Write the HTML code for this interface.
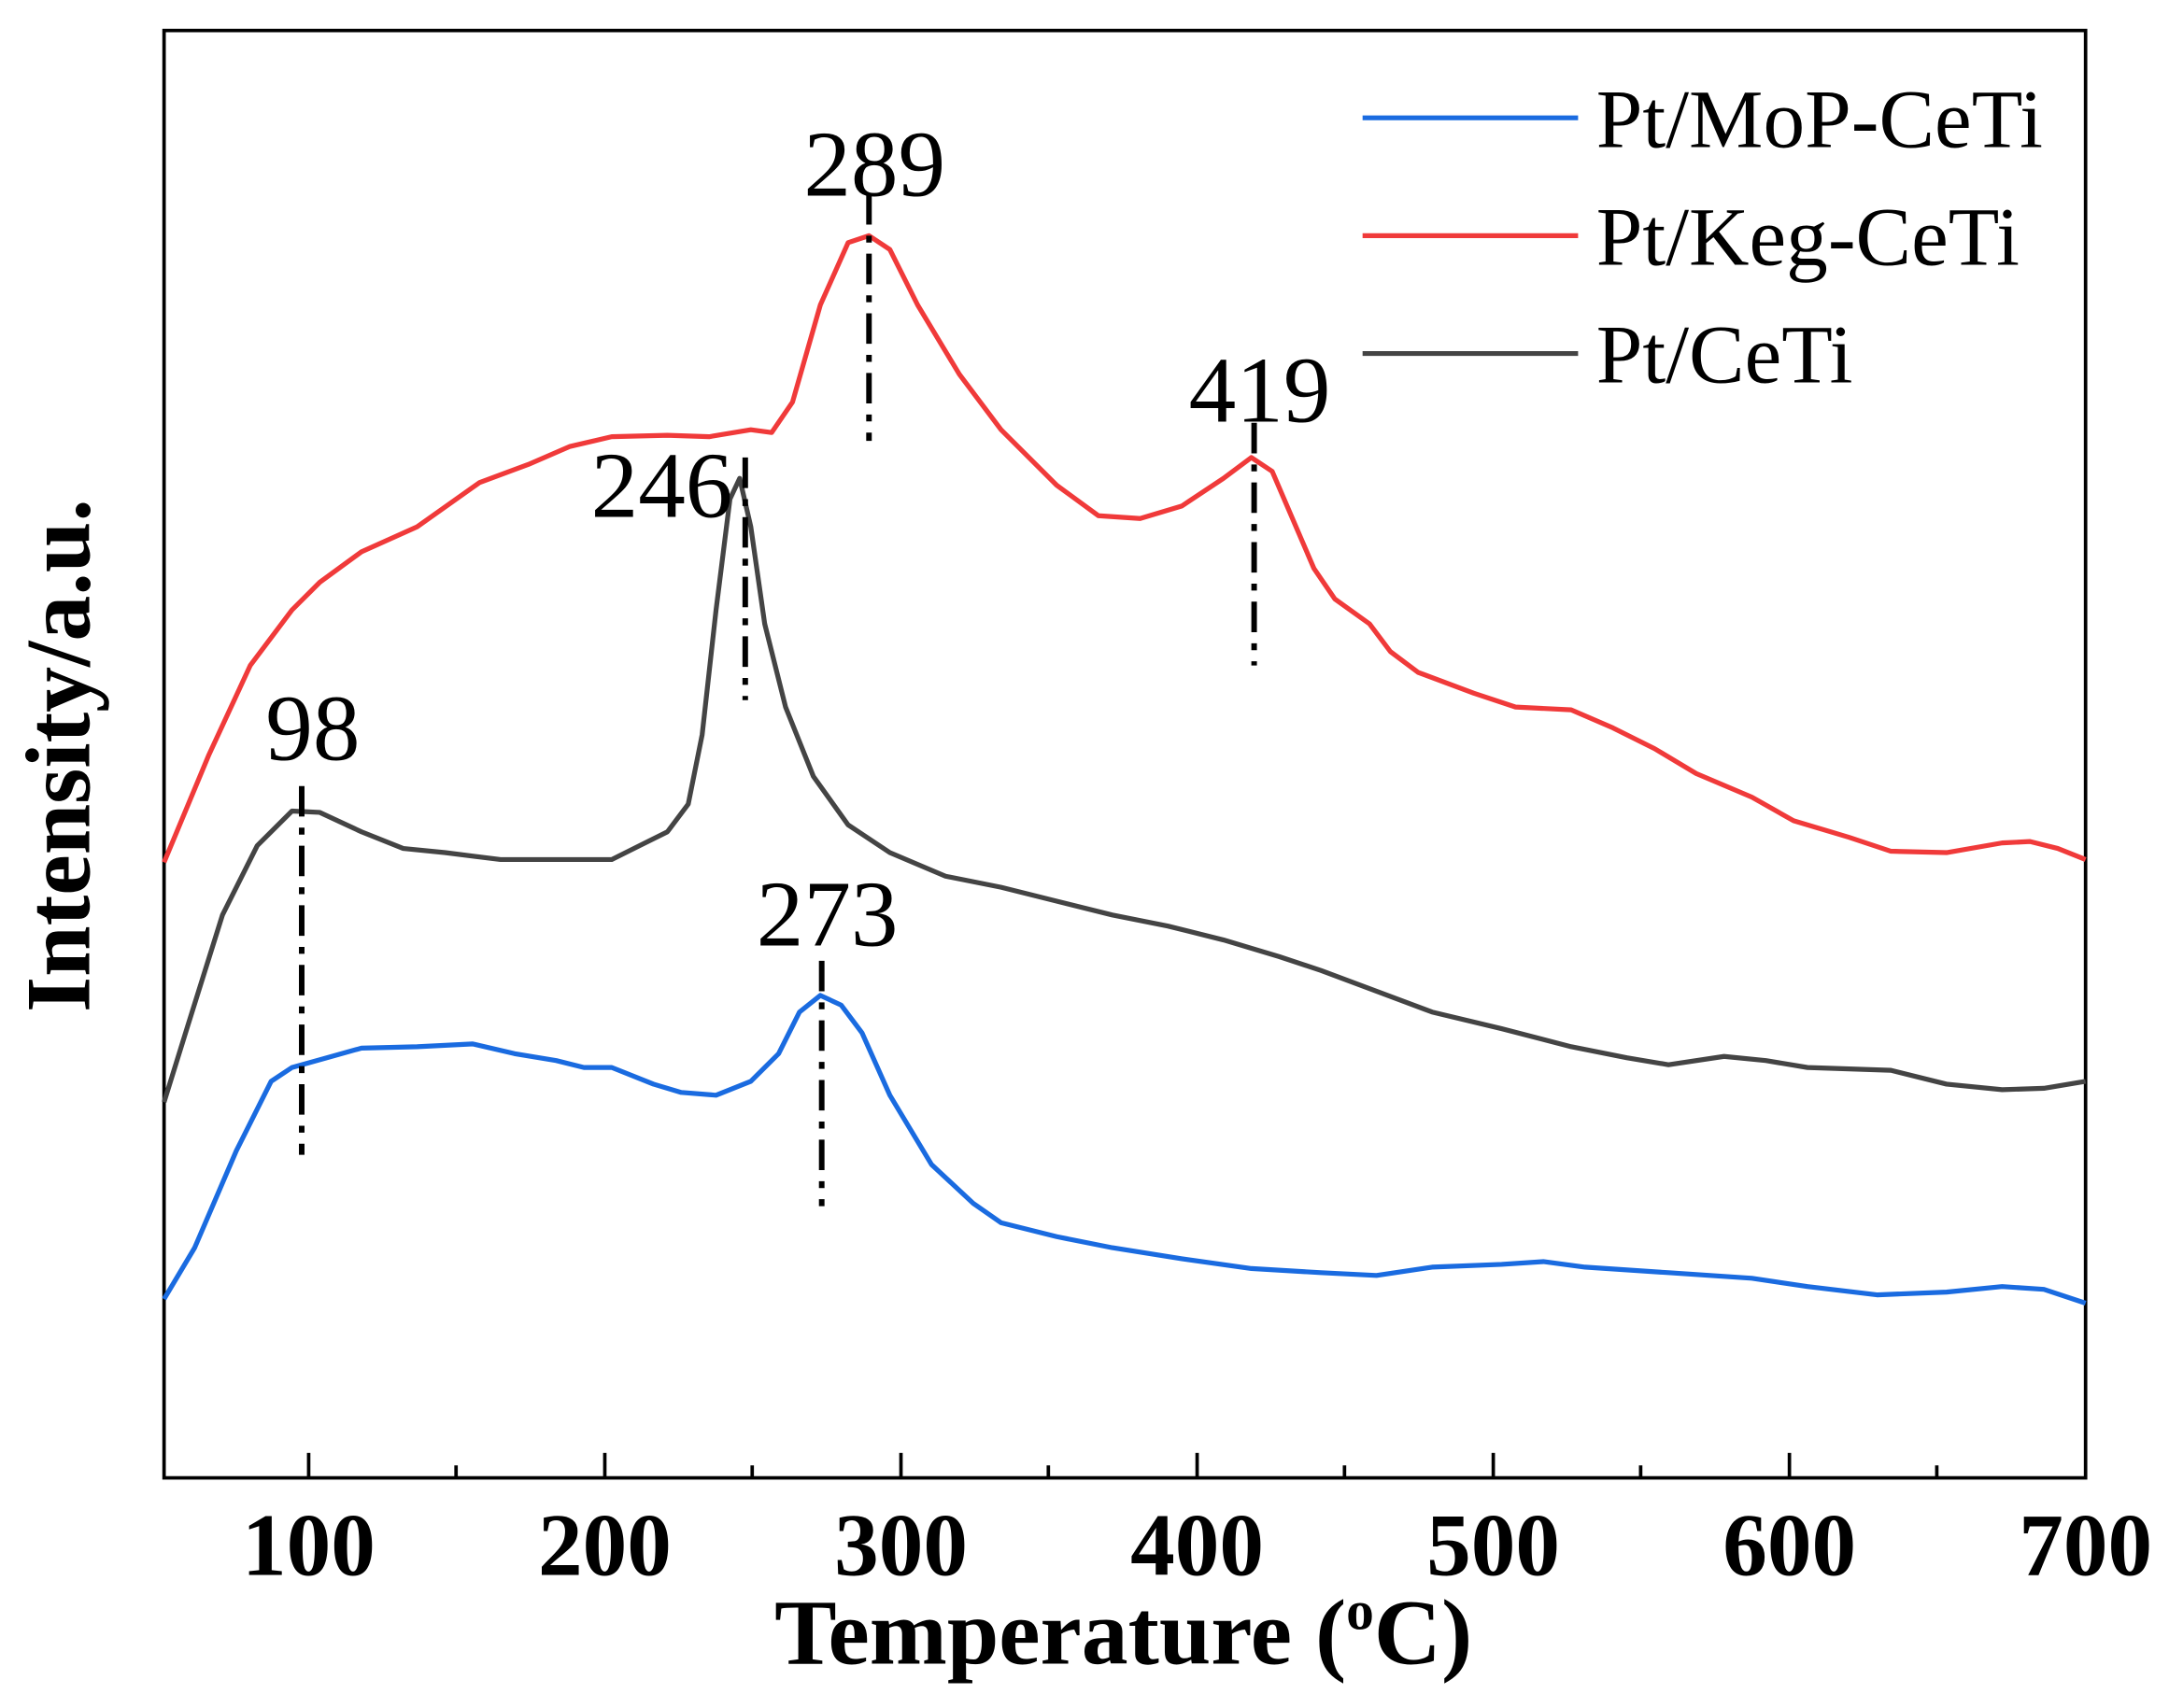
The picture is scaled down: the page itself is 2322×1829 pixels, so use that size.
<!DOCTYPE html>
<html><head><style>html,body{margin:0;padding:0;background:#fff}svg{display:block}</style></head>
<body>
<svg width="2322" height="1829" viewBox="0 0 1560 1232" preserveAspectRatio="none" xmlns="http://www.w3.org/2000/svg" font-family="Liberation Serif, serif">
<rect x="118" y="22" width="1382" height="1044" fill="none" stroke="#000" stroke-width="2.5"/>
<g stroke="#000" stroke-width="2.5">
<line x1="222" y1="1066" x2="222" y2="1048"/><line x1="435" y1="1066" x2="435" y2="1048"/><line x1="648" y1="1066" x2="648" y2="1048"/><line x1="861" y1="1066" x2="861" y2="1048"/><line x1="1074" y1="1066" x2="1074" y2="1048"/><line x1="1287" y1="1066" x2="1287" y2="1048"/>
<line x1="328" y1="1066" x2="328" y2="1057"/><line x1="541" y1="1066" x2="541" y2="1057"/><line x1="754" y1="1066" x2="754" y2="1057"/><line x1="967" y1="1066" x2="967" y2="1057"/><line x1="1180" y1="1066" x2="1180" y2="1057"/><line x1="1393" y1="1066" x2="1393" y2="1057"/>
</g>
<g font-weight="bold" font-size="64" text-anchor="middle">
<text x="222" y="1136">100</text><text x="435" y="1136">200</text><text x="648" y="1136">300</text><text x="861" y="1136">400</text><text x="1074" y="1136">500</text><text x="1287" y="1136">600</text><text x="1500" y="1136">700</text>
</g>
<text x="808" y="1200" font-weight="bold" font-size="67" text-anchor="middle">Temperature (<tspan font-size="40" dy="-25">o</tspan><tspan dy="25">C)</tspan></text>
<text transform="translate(64,545) rotate(-90)" font-weight="bold" font-size="66" text-anchor="middle">Intensity/a.u.</text>
<g fill="none" stroke-width="3.5" stroke-linejoin="round">
<polyline stroke="#f03a3a" points="118,622 150,545 180,480 210,440 230,420 260,398 300,380 345,348 380,335 410,322 440,315 480,314 510,315 540,310 555,312 570,290 590,220 610,175 625,170 640,180 660,220 690,270 720,310 760,350 790,372 820,374 850,365 880,345 900,330 915,340 930,375 945,410 960,432 985,450 1000,470 1020,485 1060,500 1090,510 1130,512 1160,525 1190,540 1220,558 1260,575 1290,592 1330,604 1360,614 1400,615 1440,608 1460,607 1480,612 1500,620"/>
<polyline stroke="#444" points="118,795 135,740 160,660 185,610 210,585 230,586 260,600 290,612 320,615 360,620 400,620 440,620 460,610 480,600 495,580 505,530 515,440 525,360 532,345 540,380 550,450 565,510 585,560 610,595 640,615 680,632 720,640 760,650 800,660 840,668 880,678 920,690 950,700 990,715 1030,730 1080,742 1130,755 1170,763 1200,768 1240,762 1270,765 1300,770 1360,772 1400,782 1440,786 1470,785 1500,780"/>
<polyline stroke="#1a6be0" points="118,937 140,900 170,830 195,780 210,770 235,763 260,756 300,755 340,753 370,760 400,765 420,770 440,770 470,782 490,788 515,790 540,780 560,760 575,730 590,718 605,725 620,745 640,790 670,840 700,868 720,882 760,892 800,900 850,908 900,915 950,918 990,920 1030,914 1080,912 1110,910 1140,914 1200,918 1260,922 1300,928 1350,934 1400,932 1440,928 1470,930 1500,940"/>
</g>
<g stroke="#000" stroke-width="4" stroke-dasharray="22,8,5,8">
<line x1="217" y1="567" x2="217" y2="833"/><line x1="536" y1="330" x2="536" y2="505"/><line x1="591" y1="693" x2="591" y2="870"/><line x1="625" y1="140" x2="625" y2="318"/><line x1="902" y1="305" x2="902" y2="480"/>
</g>
<g font-size="68" text-anchor="middle">
<text x="629" y="141">289</text><text x="906" y="304">419</text><text x="476" y="373">246</text><text x="225" y="548">98</text><text x="595" y="682">273</text>
</g>
<g stroke-width="3.5">
<line x1="980" y1="85" x2="1135" y2="85" stroke="#1a6be0"/><line x1="980" y1="170" x2="1135" y2="170" stroke="#f03a3a"/><line x1="980" y1="255" x2="1135" y2="255" stroke="#444"/>
</g>
<g font-size="60">
<text x="1148" y="106">Pt/MoP-CeTi</text><text x="1148" y="191">Pt/Keg-CeTi</text><text x="1148" y="276">Pt/CeTi</text>
</g>
</svg>
</body></html>
